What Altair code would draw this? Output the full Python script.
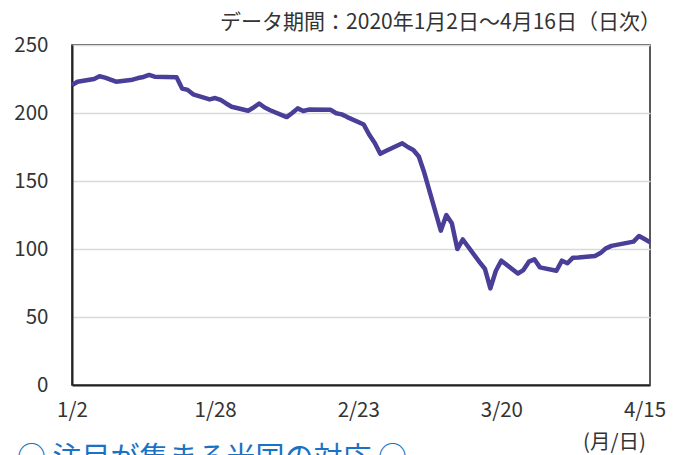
import altair as alt
import pandas as pd

FONT = "Noto Sans CJK JP"

# US trading days and index values
jan_days = [2, 3, 6, 7, 8, 9, 10, 13, 14, 15, 16, 17, 21, 22, 23, 24, 27, 28, 29, 30, 31]
jan_vals = [220.5, 223, 225, 227, 226, 224.5, 223, 224.5, 225.7, 226.5, 228, 226.7, 226.3,
            218, 217, 213.7, 210, 211, 209.6, 207, 204.6]
feb_days = [3, 4, 5, 6, 7, 10, 11, 12, 13, 14, 18, 19, 20, 21, 24, 25, 26, 27, 28]
feb_vals = [201.7, 204, 207, 204, 202, 197, 200, 203.4, 201.5, 202.5, 202.3, 199.8, 199,
            197, 191.5, 184, 178, 170, 172]
mar_days = [2, 3, 4, 5, 6, 9, 10, 11, 12, 13, 16, 17, 18, 19, 20, 23, 24, 25, 26, 27, 30, 31]
mar_vals = [177.7, 175, 172.8, 168, 156, 113.5, 125, 119, 100, 107, 90.5, 85.5, 71, 84,
            91.4, 82, 84.5, 90.7, 92.4, 86.5, 84, 91.4]
apr_days = [1, 2, 3, 6, 7, 8, 9, 13, 14, 15, 16]
apr_vals = [89.5, 93.6, 93.8, 94.9, 97, 100.5, 102.3, 105.4, 109.6, 107.3, 105]

x_tick_dates = [(1, 2), (1, 28), (2, 23), (3, 20), (4, 15)]
y_ticks = [0, 50, 100, 150, 200, 250]

title_text = "データ期間：2020年1月2日～4月16日（日次）"
unit_text = "(月/日)"
heading_text = "○ 注目が集まる米国の対応 ○"

rows = []
for m, days, vals in [(1, jan_days, jan_vals), (2, feb_days, feb_vals),
                      (3, mar_days, mar_vals), (4, apr_days, apr_vals)]:
    for d, v in zip(days, vals):
        rows.append({"date": pd.Timestamp(2020, m, d), "value": v})
df = pd.DataFrame(rows)

x_values = [alt.DateTime(year=2020, month=m, date=d) for m, d in x_tick_dates]

line = alt.Chart(df).mark_line(color="#4a3f98", strokeWidth=4.5, strokeJoin="round").encode(
    x=alt.X("date:T",
            scale=alt.Scale(domain=[alt.DateTime(year=2020, month=1, date=2),
                                    alt.DateTime(year=2020, month=4, date=16)], nice=False),
            axis=alt.Axis(values=x_values, format="%-m/%-d", title=None, labelFlush=False,
                          ticks=False, labelPadding=15, grid=False, domainColor="#222",
                          domainWidth=2, labelFontSize=20.5, labelColor="#333",
                          labelFont=FONT)),
    y=alt.Y("value:Q", scale=alt.Scale(domain=[0, 250], nice=False),
            axis=alt.Axis(values=y_ticks, title=None, ticks=False, labelPadding=24,
                          gridColor="#d9d9d9", gridWidth=1.5, domainColor="#222",
                          domainWidth=2, labelFontSize=20.5, labelColor="#333",
                          labelFont=FONT)),
)

title = alt.Chart(pd.DataFrame({"t": [title_text]})).mark_text(
    align="right", baseline="middle", font=FONT, fontSize=21, color="#333"
).encode(text="t:N", x=alt.value(589), y=alt.value(-22))

unit = alt.Chart(pd.DataFrame({"t": [unit_text]})).mark_text(
    align="right", baseline="middle", font=FONT, fontSize=20.5, color="#333"
).encode(text="t:N", x=alt.value(574), y=alt.value(398))

heading = alt.Chart(pd.DataFrame({"t": [heading_text]})).mark_text(
    align="left", baseline="alphabetic", font=FONT, fontSize=29, color="#1a72c4"
).encode(text="t:N", x=alt.value(-55), y=alt.value(423))

chart = alt.layer(line, title, unit, heading).properties(
    width=578, height=340,
    padding={"left": 64, "top": 37, "right": 23, "bottom": 85},
    autosize=alt.AutoSizeParams(type="none"),
).configure_view(stroke="#222", strokeWidth=1.5)

chart.save("out.html", embed_options={"renderer": "svg", "actions": False})
